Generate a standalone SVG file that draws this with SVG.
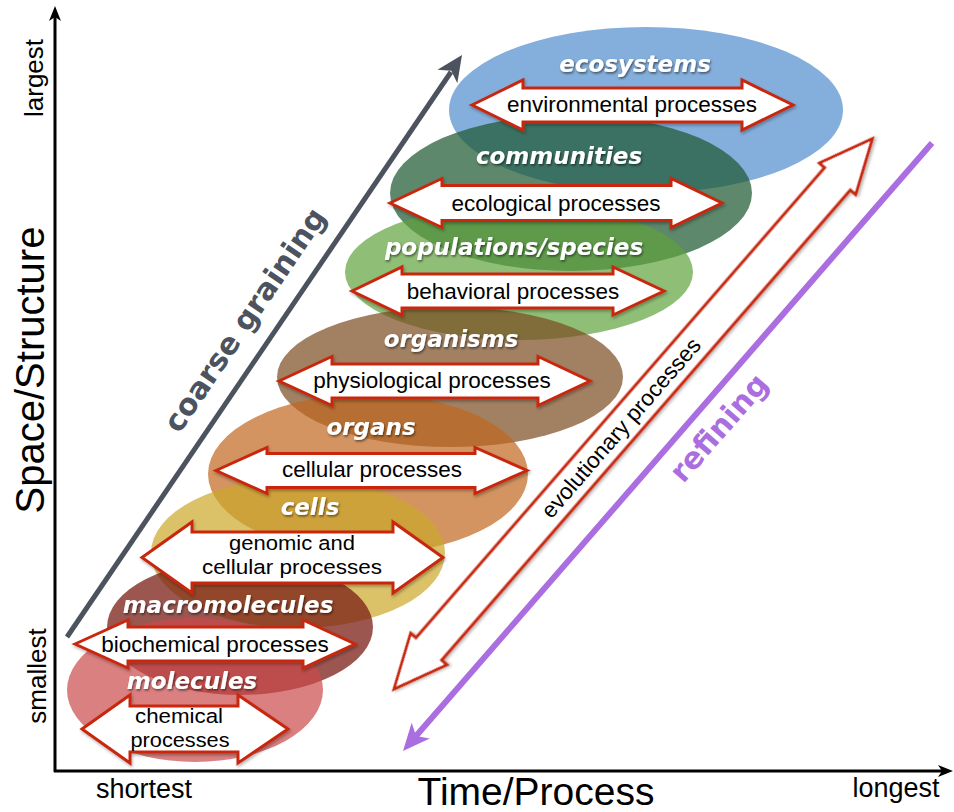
<svg xmlns="http://www.w3.org/2000/svg" width="954" height="812" viewBox="0 0 954 812">
<defs>
<filter id="txtShadow" x="-10%" y="-40%" width="120%" height="180%">
<feDropShadow dx="1" dy="1.5" stdDeviation="1.2" flood-color="#000" flood-opacity="0.55"/>
</filter>
<filter id="arrShadow" x="-10%" y="-20%" width="120%" height="140%">
<feDropShadow dx="1" dy="2" stdDeviation="1.5" flood-color="#000" flood-opacity="0.3"/>
</filter>
</defs>
<style>
.lvl { font-family: "DejaVu Sans", Verdana, sans-serif; font-weight: bold; font-style: italic; font-size: 23px; fill: #ffffff; text-anchor: middle; filter: url(#txtShadow); }
.proc { font-family: "Liberation Sans", Arial, Helvetica, sans-serif; font-size: 22.5px; fill: #000000; text-anchor: middle; }
.proc2 { font-family: "Liberation Sans", Arial, Helvetica, sans-serif; font-size: 20.5px; fill: #000000; text-anchor: middle; }
.blk { fill: #ffffff; stroke: #c8280f; stroke-width: 3; stroke-linejoin: miter; filter: url(#arrShadow); }
.ax { font-family: "Liberation Sans", Arial, Helvetica, sans-serif; fill: #000000; text-anchor: middle; }
.axl { stroke: #000000; stroke-width: 3; fill: none; }
.big { font-family: "DejaVu Sans", Verdana, sans-serif; font-weight: bold; font-size: 30px; text-anchor: middle; }
</style>
<rect x="0" y="0" width="954" height="812" fill="#ffffff"/>

<!-- axes -->
<g id="axes">
<line class="axl" x1="55" y1="772" x2="55" y2="16"/>
<polygon points="55,6 49,21 55,17 61,21" fill="#000"/>
<line class="axl" x1="54" y1="771" x2="942" y2="771"/>
<polygon points="953,771 938,765 942,771 938,777" fill="#000"/>
<text class="ax" font-size="26" transform="translate(43,78) rotate(-90)">largest</text>
<text class="ax" font-size="26" transform="translate(46,676) rotate(-90)">smallest</text>
<text class="ax" font-size="40" transform="translate(44,370) rotate(-90)">Space/Structure</text>
<text class="ax" font-size="27" x="144" y="798">shortest</text>
<text class="ax" font-size="27" x="896" y="797">longest</text>
<text class="ax" font-size="39" x="536" y="805">Time/Process</text>
</g>

<!-- level shapes -->
<g id="levels">
<g id="node-ecosystems"><ellipse cx="646" cy="110" rx="197" ry="83" fill="#5b93cf" fill-opacity="0.75"/></g>
<g id="node-communities"><ellipse cx="571" cy="193" rx="181" ry="78" fill="#1f5a33" fill-opacity="0.72"/></g>
<g id="node-populations"><ellipse cx="519" cy="272" rx="174" ry="68" fill="#5fa33c" fill-opacity="0.7"/></g>
<g id="node-organisms"><ellipse cx="450" cy="377" rx="173" ry="70" fill="#7a4a20" fill-opacity="0.7"/></g>
<g id="node-organs"><ellipse cx="368" cy="474" rx="160" ry="80" fill="#c0661e" fill-opacity="0.7"/></g>
<g id="node-cells"><ellipse cx="298" cy="553" rx="147" ry="75" fill="#cca82a" fill-opacity="0.7"/></g>
<g id="node-macromolecules"><ellipse cx="240" cy="627" rx="133" ry="68" fill="#7a1e16" fill-opacity="0.75"/></g>
<g id="node-molecules"><ellipse cx="195" cy="690" rx="128" ry="72" fill="#cc4a4a" fill-opacity="0.7"/></g>
</g>

<!-- connectors -->
<g id="connectors">
<g id="coarse-graining">
<line x1="67" y1="637" x2="451" y2="72" stroke="#4c535e" stroke-width="5"/>
<polygon transform="translate(462,55) rotate(-55.83)" points="0,0 -26,-12 -19,0 -26,12" fill="#4c535e"/>
<text class="big" fill="#4c535e" transform="translate(245,320) rotate(-55.83)" x="0" y="10">coarse graining</text>
</g>
<g id="evolutionary">
<path class="blk" stroke-width="2.5" transform="translate(394,689) rotate(-49)" d="M0,0 L53,-24 L53,-17 L676,-17 L676,-24 L729,0 L676,24 L676,17 L53,17 L53,24 Z"/>
<text class="proc" transform="translate(394,689) rotate(-49)" x="346" y="7.5">evolutionary processes</text>
</g>
<g id="refining">
<line x1="932" y1="143" x2="416" y2="736" stroke="#aa6ee0" stroke-width="6"/>
<polygon transform="translate(403,751) rotate(131.03)" points="0,0 -27,-12 -20,0 -27,12" fill="#aa6ee0"/>
<text class="big" fill="#aa6ee0" transform="translate(719,428) rotate(-49)" x="0" y="10">refining</text>
</g>
</g>

<!-- process arrows and labels -->
<g id="labels">
<g id="label-ecosystems">
<path class="blk" d="M472,105 L523,80 L523,88 L742,88 L742,80 L793,105 L742,130 L742,122 L523,122 L523,130 Z"/>
<text class="proc" x="632" y="112">environmental processes</text>
<text class="lvl" x="635" y="72">ecosystems</text>
</g>
<g id="label-communities">
<path class="blk" d="M390,203 L442,178.5 L442,185.5 L671,185.5 L671,178.5 L722,203 L671,227.5 L671,220.5 L442,220.5 L442,227.5 Z"/>
<text class="proc" x="556" y="211">ecological processes</text>
<text class="lvl" x="559" y="164">communities</text>
</g>
<g id="label-populations">
<path class="blk" d="M352,291 L402,267 L402,274 L613,274 L613,267 L664,291 L613,315 L613,308 L402,308 L402,315 Z"/>
<text class="proc" x="513" y="299">behavioral processes</text>
<text class="lvl" x="514" y="255">populations/species</text>
</g>
<g id="label-organisms">
<path class="blk" d="M279,381 L332,356.5 L332,364 L538,364 L538,356.5 L590,381 L538,405.5 L538,398 L332,398 L332,405.5 Z"/>
<text class="proc" x="432" y="388">physiological processes</text>
<text class="lvl" x="451" y="347">organisms</text>
</g>
<g id="label-organs">
<path class="blk" d="M216,470.5 L267,447.5 L267,453.5 L475,453.5 L475,447.5 L527,470.5 L475,493.5 L475,487.5 L267,487.5 L267,493.5 Z"/>
<text class="proc" x="372" y="477">cellular processes</text>
<text class="lvl" x="371" y="435">organs</text>
</g>
<g id="label-cells">
<path class="blk" d="M142,557.5 L192,522 L192,532 L393,532 L393,522 L443,557.5 L393,593 L393,583 L192,583 L192,593 Z"/>
<text class="proc2" x="292" y="550" textLength="126" lengthAdjust="spacingAndGlyphs">genomic and</text>
<text class="proc2" x="292" y="574" textLength="180" lengthAdjust="spacingAndGlyphs">cellular processes</text>
<text class="lvl" x="310" y="515">cells</text>
</g>
<g id="label-macromolecules">
<path class="blk" d="M75,644 L128,620 L128,627 L303,627 L303,620 L355,644 L303,668 L303,661 L128,661 L128,668 Z"/>
<text class="proc" x="215" y="652">biochemical processes</text>
<text class="lvl" x="228" y="613">macromolecules</text>
</g>
<g id="label-molecules">
<path class="blk" d="M82,729 L130,695 L130,706 L238,706 L238,695 L288,729 L238,763 L238,752 L130,752 L130,763 Z"/>
<text class="proc2" x="179" y="723" textLength="88" lengthAdjust="spacingAndGlyphs">chemical</text>
<text class="proc2" x="180" y="747" textLength="99" lengthAdjust="spacingAndGlyphs">processes</text>
<text class="lvl" x="192" y="689">molecules</text>
</g>
</g>
</svg>
